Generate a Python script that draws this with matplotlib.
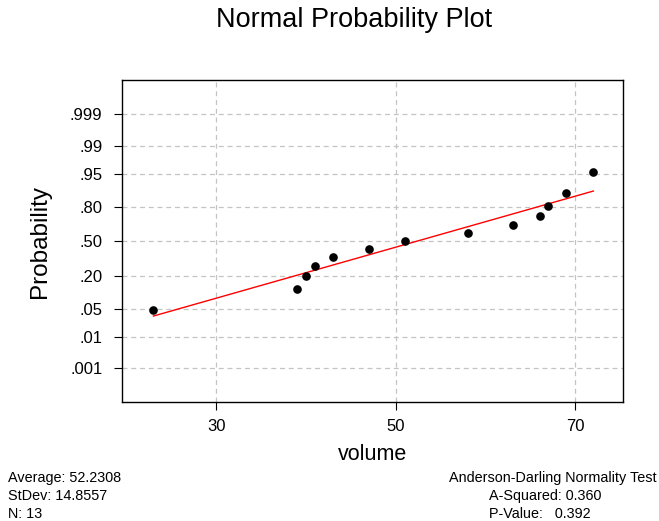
import matplotlib
matplotlib.use("Agg")
import matplotlib.pyplot as plt
from statistics import NormalDist

# data
volume = [23, 39, 40, 41, 43, 47, 51, 58, 63, 66, 67, 69, 72]
prob = [0.0472, 0.1226, 0.1981, 0.2736, 0.3491, 0.4245, 0.5,
        0.5755, 0.6509, 0.7264, 0.8019, 0.8774, 0.9528]
fit_x = [23, 72]
fit_prob = [0.0344, 0.8888]
prob_ticks = [0.001, 0.01, 0.05, 0.20, 0.50, 0.80, 0.95, 0.99, 0.999]
prob_labels = [".001", ".01", ".05", ".20", ".50", ".80", ".95", ".99", ".999"]
x_ticks = [30, 50, 70]

stats_left = ["Average: 52.2308", "StDev: 14.8557", "N: 13"]
stats_right_title = "Anderson-Darling Normality Test"
stats_right = ["A-Squared: 0.360", "P-Value:   0.392"]

plt.rcParams["font.family"] = ["Liberation Sans", "DejaVu Sans"]

nd = NormalDist()
z = lambda ps: [nd.inv_cdf(p) for p in ps]

W, H = 659, 521
fig = plt.figure(figsize=(W / 100, H / 100), dpi=100)
ax = fig.add_axes([122 / W, 1 - 402 / H, 501 / W, 322 / H])

ax.plot(fit_x, z(fit_prob), color="red", linewidth=1.0, zorder=3)
ax.scatter(volume, z(prob), s=27, color="black", zorder=4)

ax.set_xlim(19.5, 75.3)
ax.set_ylim(-3.91, 3.92)
ax.set_xticks(x_ticks)
ax.set_yticks(z(prob_ticks))
ax.set_yticklabels(prob_labels)
ax.tick_params(direction="out", length=5.5, width=0.8, labelsize=12, colors="black")
ax.tick_params(axis="y", pad=8.5)
ax.tick_params(axis="x", pad=7)
ax.grid(True, color="#c4c4c4", linestyle=(0, (4, 3)), linewidth=0.9)
for sp in ax.spines.values():
    sp.set_linewidth(1.0)

ax.set_xlabel("volume", fontsize=15.5)
ax.xaxis.label.set_va("center")
ax.xaxis.set_label_coords(0.5, (402 - 454) / 322)
ax.set_ylabel("Probability", fontsize=17.5)
ax.yaxis.label.set_va("center")
ax.yaxis.set_label_coords((40 - 122) / 501, 0.50)

fig.text(354.5 / W, 1 - 20 / H, "Normal Probability Plot", ha="center", va="center", fontsize=19.5)

for i, line in enumerate(stats_left):
    fig.text(8 / W, 1 - (478 + 18 * i) / H, line, ha="left", va="center", fontsize=10.4)
fig.text(657 / W, 1 - 478 / H, stats_right_title, ha="right", va="center", fontsize=10.4)
for i, line in enumerate(stats_right):
    fig.text(489 / W, 1 - (496 + 18 * i) / H, line, ha="left", va="center", fontsize=10.4)

fig.savefig("out.png", dpi=100)
